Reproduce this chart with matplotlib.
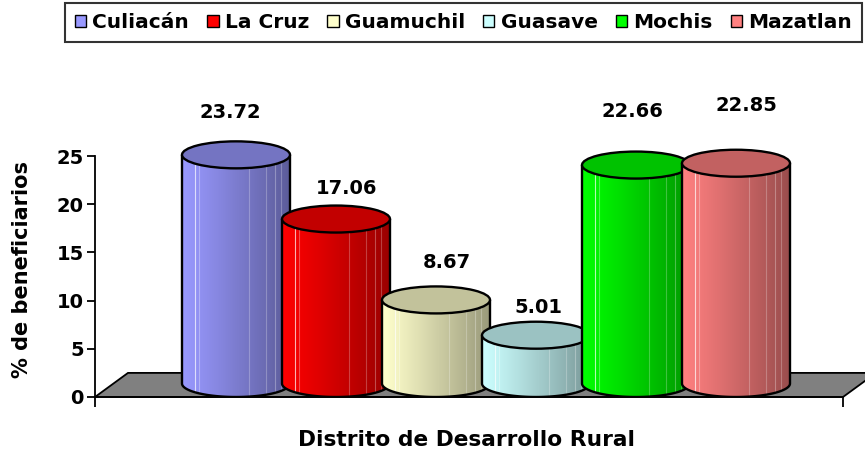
import numpy as np
import matplotlib
matplotlib.use("Agg")
import matplotlib.pyplot as plt
from matplotlib.patches import Polygon, Ellipse, Patch
from matplotlib.colors import to_rgb

# ---------------- data ----------------
categories = ["Culiacán", "La Cruz", "Guamuchil", "Guasave", "Mochis", "Mazatlan"]
values = [23.72, 17.06, 8.67, 5.01, 22.66, 22.85]
value_labels = ["23.72", "17.06", "8.67", "5.01", "22.66", "22.85"]
y_ticks = [0, 5, 10, 15, 20, 25]

# ---------------- style ----------------
colors = ["#9999FF", "#FF0000", "#FFFFCC", "#CCFFFF", "#00FF00", "#FF8080"]
label_dx = [-6, 11, 11, 2, -4, 10]      # pixel offsets of value labels
label_dy = [56, 44, 51, 41, 67, 71]
FONT = "DejaVu Sans"

plt.rcParams["font.family"] = [FONT]
plt.rcParams["font.weight"] = "bold"

fig = plt.figure(figsize=(8.65, 4.54), dpi=100)
ax = fig.add_axes([95 / 865, 1 - 397 / 454, 748 / 865, 337.4 / 454])
xl, xr = -1.41, 6.07
ax.set_xlim(xl, xr)
ax.set_ylim(0, 35)

bar_w = 1.08      # cylinder width (x units)
hh = 1.4          # ellipse semi-height (y units)
floor_dx, floor_dy = 0.33, 2.5

# floor
floor = Polygon([[xl, 0], [xr, 0], [xr + floor_dx, floor_dy], [xl + floor_dx, floor_dy]],
                closed=True, facecolor="#808080", edgecolor="black", lw=1.3,
                zorder=1, clip_on=False)
ax.add_patch(floor)


def shade(c, f):
    r = np.array(to_rgb(c))
    return np.clip(r * f, 0, 1)


t = np.linspace(0, 1, 200)
for i, (v, c) in enumerate(zip(values, colors)):
    z = 3 + i
    x0, x1 = i - bar_w / 2, i + bar_w / 2
    base_c = hh
    top_c = v + hh
    th = np.linspace(np.pi, 2 * np.pi, 80)
    arc = np.column_stack([i + bar_w / 2 * np.cos(th), base_c + hh * np.sin(th)])
    pts = np.vstack([[x0, top_c], arc, [x1, top_c]])
    body = Polygon(pts, closed=True, facecolor="none", edgecolor="none", zorder=z)
    ax.add_patch(body)
    light = shade(c, 1.0)
    dark = shade(c, 0.6)
    tt = t ** 1.1
    grad = light[None, :] * (1 - tt[:, None]) + dark[None, :] * tt[:, None]
    img = ax.imshow(grad[None, :, :], extent=[x0, x1, 0, top_c], aspect="auto",
                    interpolation="bilinear", zorder=z, origin="lower")
    img.set_clip_path(body)
    # streaks
    for frac, col, a in [(0.12, "white", 0.7), (0.16, "white", 0.3), (0.62, "white", 0.25),
                         (0.78, "white", 0.25), (0.86, "white", 0.3), (0.92, "white", 0.25)]:
        ln, = ax.plot([x0 + frac * bar_w] * 2, [0, top_c], color=col, lw=0.8,
                      alpha=a, zorder=z + 0.1)
        ln.set_clip_path(body)
    outline = Polygon(pts, closed=False, facecolor="none", edgecolor="black",
                      lw=1.7, zorder=z + 0.2)
    ax.add_patch(outline)
    top = Ellipse((i, top_c), bar_w, 2 * hh, facecolor=shade(c, 0.76),
                  edgecolor="black", lw=1.7, zorder=z + 0.3)
    ax.add_patch(top)
    ax.annotate(value_labels[i], (i, v), xytext=(label_dx[i], label_dy[i]),
                textcoords="offset pixels", ha="center", va="center",
                fontsize=14, fontweight="bold", zorder=20)

# axes styling
for s in ["top", "right"]:
    ax.spines[s].set_visible(False)
ax.spines["left"].set_bounds(0, 25)
ax.spines["left"].set_linewidth(1.3)
ax.spines["bottom"].set_linewidth(1.3)
ax.spines["bottom"].set_zorder(2)
ax.set_yticks(y_ticks)
ax.set_yticklabels([str(v) for v in y_ticks], fontsize=14, fontweight="bold")
ax.tick_params(axis="y", direction="out", length=6, width=1.3, pad=2)
ax.set_xticks([xl, xr])
ax.set_xticklabels([])
ax.tick_params(axis="x", direction="out", length=7, width=1.3)
ax.set_facecolor("none")

fig.text(22 / 865, 1 - 269 / 454, "% de beneficiarios", rotation=90, ha="center",
         va="center", fontsize=15, fontweight="bold")
fig.text(467 / 865, 1 - 440 / 454, "Distrito de Desarrollo Rural", ha="center",
         va="center", fontsize=15.7, fontweight="bold")

handles = [Patch(facecolor=c, edgecolor="black", lw=1.0) for c in colors]
leg = fig.legend(handles, categories, loc="upper right", ncol=6,
                 bbox_to_anchor=(862 / 865, 1 - 3 / 454), borderaxespad=0,
                 prop={"weight": "bold", "size": 14.5},
                 handlelength=0.57, handleheight=0.57, handletextpad=0.3,
                 columnspacing=0.9, borderpad=0.5, fancybox=False, frameon=True)
leg.get_frame().set_edgecolor("black")
leg.get_frame().set_linewidth(1.5)

fig.savefig("out.png", dpi=100)
